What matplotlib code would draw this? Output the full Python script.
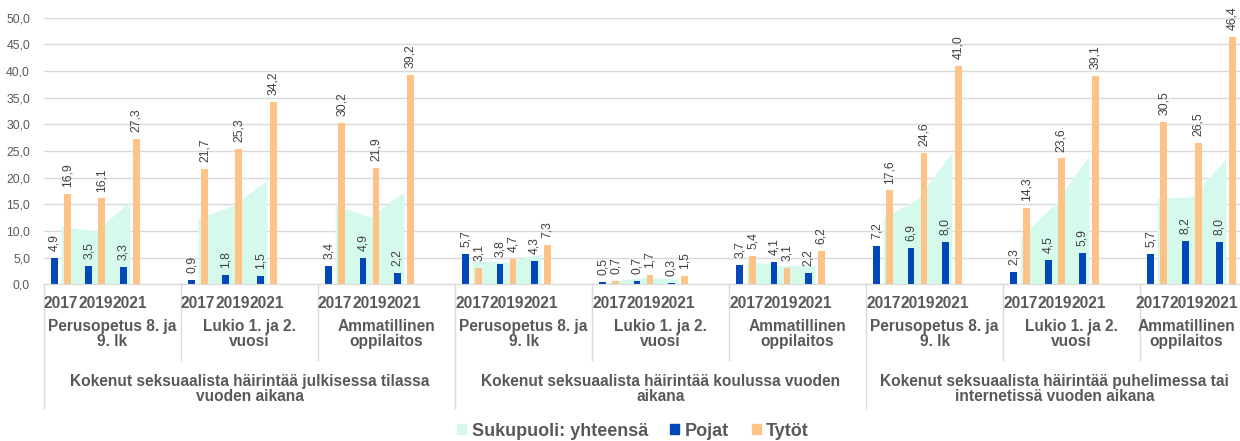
import matplotlib
matplotlib.use("Agg")
from matplotlib import pyplot as plt
from matplotlib.patches import Patch
from matplotlib.transforms import blended_transform_factory, offset_copy

plt.rcParams['font.family'] = ['Liberation Sans', 'DejaVu Sans']

years = ["2017", "2019", "2021"]
schools = ["Perusopetus 8. ja\n9. lk", "Lukio 1. ja 2.\nvuosi", "Ammatillinen\noppilaitos"]
topics = ["Kokenut seksuaalista häirintää julkisessa tilassa\nvuoden aikana",
          "Kokenut seksuaalista häirintää koulussa vuoden\naikana",
          "Kokenut seksuaalista häirintää puhelimessa tai\ninternetissä vuoden aikana"]

# one row per (topic, school) group, values for 2017, 2019, 2021
yhteensa = [[10.9, 10.0, 15.5], [12.4, 14.7, 19.5], [14.9, 12.6, 17.3],
            [4.4, 4.2, 5.7], [0.5, 1.3, 1.0], [4.4, 3.5, 3.6],
            [12.5, 16.0, 24.7], [8.8, 15.0, 24.1], [16.2, 16.4, 23.6]]
pojat = [[4.9, 3.5, 3.3], [0.9, 1.8, 1.5], [3.4, 4.9, 2.2],
         [5.7, 3.8, 4.3], [0.5, 0.7, 0.3], [3.7, 4.1, 2.2],
         [7.2, 6.9, 8.0], [2.3, 4.5, 5.9], [5.7, 8.2, 8.0]]
tytot = [[16.9, 16.1, 27.3], [21.7, 25.3, 34.2], [30.2, 21.9, 39.2],
         [3.1, 4.7, 7.3], [0.7, 1.7, 1.5], [5.4, 3.1, 6.2],
         [17.6, 24.6, 41.0], [14.3, 23.6, 39.1], [30.5, 26.5, 46.4]]

c_area = "#d5faec"
c_boy = "#0047ba"
c_girl = "#ffc287"
c_text = "#595959"
c_grid = "#d9d9d9"

W, H = 1240, 441
x0, x1 = 44, 1243      # plot area in pixels (last empty slot runs off the edge)
ytop, ybot = 17.7, 284.3

fig = plt.figure(figsize=(W / 100, H / 100), dpi=100)
ax = fig.add_axes([x0 / W, (H - ybot) / H, (x1 - x0) / W, (ybot - ytop) / H])

ngroups = len(pojat)
ncat = ngroups * 4 - 1
bw = 0.2
off = 0.19

def fmt(v):
    return f"{v:.1f}".replace(".", ",")

for g in range(ngroups):
    xs = [g * 4 + j + 0.5 for j in range(3)]
    ax.fill_between(xs, yhteensa[g], 0, color=c_area, lw=0, zorder=1)
    ax.bar([x - off for x in xs], pojat[g], bw, color=c_boy, zorder=2)
    ax.bar([x + off for x in xs], tytot[g], bw, color=c_girl, zorder=2)
    for x, v in zip(xs, pojat[g]):
        ax.annotate(fmt(v), (x - off, v), xytext=(0, 5), textcoords="offset points",
                    rotation=90, ha="center", va="bottom", fontsize=8.8, color="#404040")
    for x, v in zip(xs, tytot[g]):
        ax.annotate(fmt(v), (x + off, v), xytext=(0, 5), textcoords="offset points",
                    rotation=90, ha="center", va="bottom", fontsize=8.8, color="#404040")

ax.set_xlim(0, ncat)
ax.set_ylim(0, 50)
ax.set_yticks(range(0, 51, 5))
ax.set_yticklabels([fmt(v) for v in range(0, 51, 5)])
ax.tick_params(axis="y", length=0, labelsize=8.8, labelcolor=c_text, pad=10)
ax.set_xticks([])
ax.grid(axis="y", color=c_grid, lw=1)
ax.set_axisbelow(True)
for side in ["top", "right", "left"]:
    ax.spines[side].set_visible(False)
ax.spines["bottom"].set_color(c_grid)

tr = blended_transform_factory(ax.transData, ax.transAxes)
tr_last = offset_copy(tr, fig=fig, x=-5, units="dots")

def fy(py):
    return (ybot - py) / (ybot - ytop)

lab = dict(ha="center", va="center", fontsize=11.2, fontweight="bold",
           color=c_text, clip_on=False, linespacing=1.0)

for g in range(ngroups):
    t = tr_last if g == ngroups - 1 else tr
    for j, yr in enumerate(years):
        ax.text(g * 4 + j + 0.5, fy(303), yr, transform=t, **lab)
    end = min(g * 4 + 4, ncat)
    ax.text((g * 4 + end) / 2, fy(334), schools[g % 3], transform=t, **lab)
    if g % 3 != 0:
        ax.plot([g * 4, g * 4], [0, fy(360)], transform=tr, color=c_grid, lw=1, clip_on=False)

for s, t in enumerate(topics):
    end = min(s * 12 + 12, ncat)
    ax.text((s * 12 + end) / 2, fy(389), t, transform=tr, **lab)
    ax.plot([s * 12, s * 12], [0, fy(408)], transform=tr, color=c_grid, lw=1, clip_on=False)

handles = [Patch(color=c_area, label="Sukupuoli: yhteensä"),
           Patch(color=c_boy, label="Pojat"),
           Patch(color=c_girl, label="Tytöt")]
leg = fig.legend(handles=handles, loc="center", bbox_to_anchor=(633 / W, 1 - 431 / H), ncol=3,
                 frameon=False, handlelength=0.5, handleheight=0.5, handletextpad=0.3,
                 columnspacing=1.25, prop={"size": 13, "weight": "bold"})
for t in leg.get_texts():
    t.set_color(c_text)

fig.savefig("out.png", dpi=100)
